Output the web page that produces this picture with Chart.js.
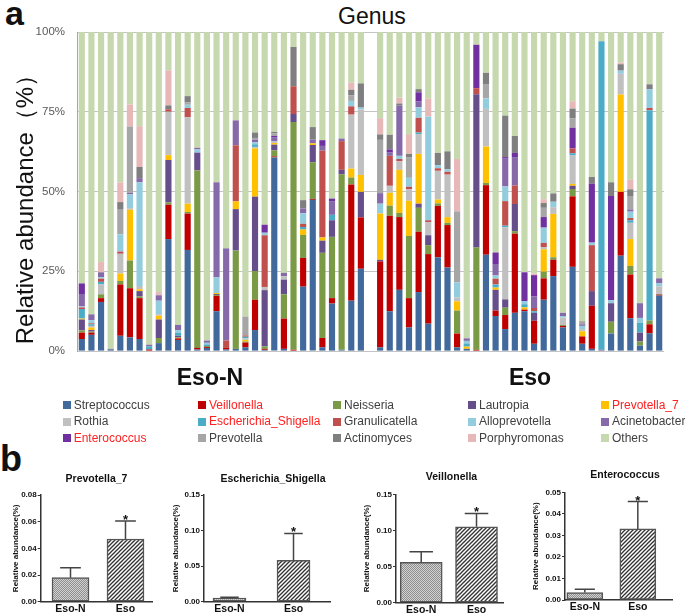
<!DOCTYPE html>
<html><head><meta charset="utf-8">
<script src="https://cdn.jsdelivr.net/npm/chart.js@4.4.1/dist/chart.umd.min.js"></script>
<style>
html,body{margin:0;padding:0;width:685px;height:616px;overflow:hidden;background:#fff;font-family:"Liberation Sans",Arial,sans-serif;}
canvas{position:absolute;}
.t{position:absolute;white-space:nowrap;}
.sw{position:absolute;width:8px;height:8px;}
</style></head><body>
<div class="t" style="left:5px;top:-4px;font:bold 34px/34px 'Liberation Sans';color:#111">a</div>
<div class="t" style="left:0px;top:441px;font:bold 36px/36px 'Liberation Sans';color:#111">b</div>
<div class="t" id="genus" style="left:0;width:744px;text-align:center;top:5px;font:23px/23px 'Liberation Sans';color:#111">Genus</div>
<canvas id="main" width="685" height="370" style="left:0;top:0"></canvas>
<div id="grp"></div>
<div id="legend"></div>
<canvas id="c1"></canvas><canvas id="c2"></canvas><canvas id="c3"></canvas><canvas id="c4"></canvas>
<script>
// ---------- data: panel a (relative abundance %, 30 Eso-N samples then 30 Eso samples) ----------
const genera = ['Streptococcus','Veillonella','Neisseria','Lautropia','Prevotella_7','Rothia','Escherichia_Shigella','Granulicatella','Alloprevotella','Acinetobacter','Enterococcus','Prevotella','Actinomyces','Porphyromonas','Others'];
const highlighted = ['Veillonella','Prevotella_7','Escherichia_Shigella','Enterococcus'];
const groups = ['Eso-N','Eso'];
const yTicks = [0,25,50,75,100];

const streptococcus = [3.8,5.1,15.4,0.5,4.8,4.3,3.8,0,2.5,35.1, 3.5,31.7,0.5,1,12.5,0.5,0.7,1.2,6.6,0.4, 60.7,0.7,0,20.2,47.4,1.2,14.9,0.4,15.8,25.8,
  1.2,12.5,19.2,7.4,18.5,8.6,29.4,26.2,1.2,0.7, 0,30.2,11,6.9,12,12.5,2.3,16.1,23.5,7.4, 26.4,2.3,0.7,0.2,5.5,29.9,10.3,1.7,5.6,17.4];
const veillonella = [2,0.7,1.2,0,16.1,15.4,12.8,0.5,0,10.8, 0.5,11.4,0.5,0.3,4.8,0.5,0,1.5,9.5,0.3, 0.3,9.5,0.4,9,0.3,2.9,1.7,0,36.4,16.1,
  26.9,29.9,22.8,9.2,18.9,21.8,16.1,13.3,4.3,0, 0.4,21.8,1.7,4.4,24.8,0.5,7.2,6.7,5.1,0.5, 22.1,2.3,13.5,0,0,20,13.7,0,2.8,0.3];
const neisseria = [0.7,0.3,1.2,0,1.1,8.7,0.5,0,1.6,0.7, 0.3,0.5,55.6,0.3,0.3,0,30.8,0.3,9,0.8, 1.9,7.6,71.4,7.2,11.5,26.7,19.2,55,2.2,0,
  0,3.2,1.3,19.5,7.5,2.8,0.8,0.7,7.2,0, 32.1,0.7,0,2.3,0.8,0,0,2.1,0.8,0.3, 2.3,0,0,0,3.7,0,2.7,1.3,1.2,0.2];
const lautropia = [3.4,0.5,0,0.2,0,0,1.7,0,5.8,13.3, 0.5,0,5.6,0,0.3,0,13,0,23.3,17.6, 1.8,4.6,2.5,0,5.4,3.8,5.2,1.4,0,8,
  0.5,0,0,0,1.3,3.1,0,0,0,0, 48,0,6.5,2.6,8.5,0,2.5,0,0,0, 1,0,4.6,0.2,5.8,0,0,2.8,0,0];
const prevotella7 = [0.3,0.8,0,0,2.3,15.9,0.6,0,1.2,1.5, 0,2.6,0,0,0.3,0,2.4,0.5,15.1,0, 0.5,0,0,1.7,0.5,1,0,0,2.8,5.3,
  14.5,4,13.5,11,15.6,0,1.2,1.8,2.9,0.7, 0,11.4,0.7,0,0,0.7,0,7,13.6,0, 0.6,1.6,0,0,0,30.5,8.4,0,0,0];
const rothia = [0,0.5,3.1,0,6.2,0.5,1,0,0.5,13.6, 0,27.1,0,0,0,0,0,0.5,0.5,1, 0.5,1.1,0,0,0,0,0,0,16.9,20.5,
  0,2.2,2.7,3.6,6.2,4.1,9,13.3,1.2,0, 0,11.8,0,22.6,0,0,0,0.7,2.1,2.3, 8.9,0.7,0,0,0,6.5,5.1,0,0,2.4];
const escherichiaShigella = [3,0.5,0.8,0,0,0,0,1,0,0, 1,0,0,0.5,0,0,0,0.5,0.8,0, 0,0,0,0.8,0,0,1.7,0,0,0,
  0,0,0,0,0.5,0,0,0,0,1, 0,0,1,0.5,0,1,0.5,0,0,0, 0.7,0,0,96.7,0,0,0.8,3.1,65.9,0];
const granulicatella = [0.5,0.3,1,0,0.7,0,0,0,0,0.8, 0,2.9,0,0,0,2.3,17.6,0.4,0,16.2, 0,0,8.7,1,0,27.2,0,9,2.6,0,
  0,9.4,0.7,0.8,4.6,0.6,0.8,0.9,0,0, 1.9,0,1.8,7.7,5.8,0,1,1.3,0,0, 1.5,0,14.4,0,0,0,0.7,0,0.7,0];
const alloprevotella = [0.3,1,0.5,0,5.4,4.3,32.5,0,4.2,0, 0.8,1,1,0.5,4.9,0,0,0,0.7,0.8, 0,0,0,3.3,0,0,0,0,1.7,0.6,
  3.1,0,1,2.8,3.3,32.5,1,0.8,4.7,0.8, 0,3.3,1,4.6,0,1,0,4.8,1.7,0.5, 0,1,0.8,0,1,1,2,1.5,5.9,1];
const acinetobacter = [3.9,1.8,1.5,0,0,0.5,1.3,0.5,1.7,0, 1.6,0,0.5,0.7,29.8,28.9,7.8,0,0.8,0, 1.2,1,0,1.5,1.2,1.5,4.3,0.8,0,0,
  3.3,1,15.7,0,1.8,0,0,0,0,0.8, 0,0,3.6,8.7,8.9,0,3.6,0,0,1, 0,0.5,0,0,0,0,0.7,4.6,0,1.5];
const enterococcus = [3.3,0,0,0,0,0,0,0,0,0, 0,0,0,0,0,0,0,0,0,2.5, 0.5,0,0,0,0,1.8,0.8,0,0,0,
  0,1,0,0,2.9,0,0,0,0,0, 13.6,0,3.6,0.5,1.3,9,6.7,3.3,0,0, 6.5,0,18.5,0,32.6,0,0,0,0,0];
const prevotella = [0,0,0,0,7.7,20.8,0,0,0,0, 0,0.7,0,0,0,0,0,5.9,0.5,0, 0.8,0,0,0,0,0,0,0,1.8,0,
  16.7,0,0,6.5,0,0,0,0,22.3,0, 0,4.3,0,0,0,0,0,2.9,0,0, 2.9,1,0,0,0,0,4.2,0,0,0];
const actinomyces = [0,0,0,0,2.4,0,3.5,0,0,1.2, 0,2,0,0,0,0,0,0,1.7,0, 0.5,0,12.3,2.6,3.9,0,0,0,1.7,7.6,
  1.7,4.6,0.7,1,1,0,3.8,5.6,0,0, 0,3.7,0,13,5.3,0,0,1.5,2.6,0, 3.1,0,2.1,0,4.3,2,2.1,0,1.5,0];
const porphyromonas = [0,0,3.2,0,6.2,6.9,12.8,0,1,11, 0,0,0,0,0,0,0,0,0,0, 0,0,0,0,0,0,0,0,2.2,0,
  5.1,0,1.8,6.2,0,5.6,0,0,16.4,0, 0,0,0,0,0,0,0.5,1.2,0,0, 2.3,0,0,0,0,0.5,3,0,0,0];

// ---------- data: panel b (mean and SEM of relative abundance) ----------
const groupsB = ['Eso-N','Eso'];
const prevotella7Mean = [0.018, 0.047];   const prevotella7Sem = [0.0075, 0.0135];
const escherichiaMean = [0.005, 0.058];   const escherichiaSem = [0.0012, 0.038];
const veillonellaMean = [0.056, 0.105];   const veillonellaSem = [0.0145, 0.0185];
const enterococcusMean = [0.0035, 0.033]; const enterococcusSem = [0.0015, 0.0127];
const significance = ['', '*'];

// ---------- styles ----------
const palette = ['#41699b','#c00000','#7a9a46','#654e8a','#ffc000','#c0c0c0','#4bacc6','#c0504d','#93cddd','#8569a8','#7030a0','#a6a6a6','#7f7f7f','#e6b9b8','#c6d8ae'];
const FONT = "'Liberation Sans', Arial, sans-serif";

// ---------- panel a ----------
const series = [streptococcus, veillonella, neisseria, lautropia, prevotella7, rothia, escherichiaShigella, granulicatella, alloprevotella, acinetobacter, enterococcus, prevotella, actinomyces, porphyromonas];
const others = streptococcus.map((_, i) => +(100 - series.reduce((s, a) => s + a[i], 0)).toFixed(2));
const n = streptococcus.length / 2;
const slotLabels = [];
for (let i = 1; i <= n; i++) slotLabels.push(groups[0] + ' ' + i);
slotLabels.push('');
for (let i = 1; i <= n; i++) slotLabels.push(groups[1] + ' ' + i);
const withGap = a => [...a.slice(0, n), null, ...a.slice(n)];

new Chart(document.getElementById('main'), {
  type: 'bar',
  data: {
    labels: slotLabels,
    datasets: genera.map((g, k) => ({
      label: g,
      data: withGap(k < series.length ? series[k] : others),
      backgroundColor: palette[k],
      borderWidth: 0,
      barPercentage: 0.64,
      categoryPercentage: 1
    }))
  },
  options: {
    responsive: false, animation: false,
    layout: { padding: { top: 32, right: 21, bottom: 12.7, left: 0 } },
    plugins: { legend: { display: false }, tooltip: { enabled: false }, title: { display: false } },
    scales: {
      x: { stacked: true, display: false },
      y: {
        stacked: true, min: 0, max: 100,
        afterBuildTicks: s => { s.ticks = yTicks.map(v => ({ value: v })); },
        ticks: { callback: v => v + '%', padding: 12, color: '#595959', font: { family: FONT, size: 11.5 } },
        grid: { color: '#c4c4c4', drawTicks: false, lineWidth: 1 },
        border: { display: true, color: '#a8a8a8' },
        title: { display: true, text: 'Relative abundance（%）\u3000', color: '#111', padding: { top: 11.6, bottom: 0 }, font: { family: FONT, size: 24 } },
        afterFit: s => { s.width = 77; }
      }
    }
  }
});

// group labels
const grpPos = [210, 530];
document.getElementById('grp').innerHTML = groups.map((g, i) =>
  `<div class="t" style="left:${grpPos[i] - 60}px;width:120px;text-align:center;top:365.5px;font:bold 23px/23px ${FONT};color:#111">${g}</div>`).join('');

// legend
const legX = [62.7, 198, 333, 468, 601];
const legY = [405, 421.7, 438.3];
document.getElementById('legend').innerHTML = genera.map((g, k) => {
  const x = legX[k % 5], y = legY[Math.floor(k / 5)];
  const col = highlighted.includes(g) ? '#ff2020' : '#404040';
  return `<div class="sw" style="left:${x}px;top:${y - 4}px;background:${palette[k]}"></div>` +
    `<div class="t" style="left:${x + 11}px;top:${y - 7.3}px;font:12px/15px ${FONT};color:${col}">${g}</div>`;
}).join('');

// ---------- panel b ----------
function hatchPattern() {
  const c = document.createElement('canvas'); c.width = 4; c.height = 4;
  const x = c.getContext('2d');
  x.fillStyle = '#ffffff'; x.fillRect(0, 0, 4, 4);
  x.strokeStyle = '#333'; x.lineWidth = 1.3;
  [[-1, 5, 5, -1], [-1, 1, 1, -1], [3, 5, 5, 3]].forEach(l => { x.beginPath(); x.moveTo(l[0], l[1]); x.lineTo(l[2], l[3]); x.stroke(); });
  return x.createPattern(c, 'repeat');
}
function dotPattern() {
  const c = document.createElement('canvas'); c.width = 2; c.height = 2;
  const x = c.getContext('2d');
  x.fillStyle = '#d2d2d2'; x.fillRect(0, 0, 2, 2);
  x.fillStyle = '#8e8e8e'; x.fillRect(0, 0, 1, 1); x.fillRect(1, 1, 1, 1);
  return x.createPattern(c, 'repeat');
}

const errorBars = {
  id: 'errorBars',
  afterDatasetsDraw(chart) {
    const ds = chart.data.datasets[0];
    const meta = chart.getDatasetMeta(0);
    const ys = chart.scales.y;
    const ctx = chart.ctx;
    ctx.save();
    ctx.strokeStyle = '#444'; ctx.lineWidth = 1.5; ctx.fillStyle = '#111';
    meta.data.forEach((bar, i) => {
      const top = ys.getPixelForValue(ds.data[i].y + ds.errors[i]);
      const half = bar.width * 0.28;
      ctx.beginPath();
      ctx.moveTo(bar.x, bar.y); ctx.lineTo(bar.x, top);
      ctx.moveTo(bar.x - half, top); ctx.lineTo(bar.x + half, top);
      ctx.stroke();
      if (ds.marks[i]) {
        ctx.font = `bold 13px ${FONT}`; ctx.textAlign = 'center'; ctx.textBaseline = 'alphabetic';
        ctx.fillText(ds.marks[i], bar.x, top + 3);
      }
    });
    ctx.restore();
  }
};

function smallChart(id, p) {
  const cv = document.getElementById(id);
  cv.width = p.cw; cv.height = 156;
  cv.style.left = p.cl + 'px'; cv.style.top = '460px';
  new Chart(cv, {
    type: 'bar',
    data: {
      datasets: [{
        data: p.mean.map((m, i) => ({ x: i + 1, y: m })),
        errors: p.sem, marks: significance,
        backgroundColor: [dotPattern(), hatchPattern()],
        borderColor: '#555', borderWidth: 1.5, borderSkipped: false,
        barThickness: p.bw
      }]
    },
    plugins: [errorBars],
    options: {
      responsive: false, animation: false,
      layout: { padding: 0 },
      plugins: {
        legend: { display: false }, tooltip: { enabled: false },
        title: { display: true, text: p.title, color: '#111', font: { family: FONT, size: 10.5, weight: 'bold' }, padding: { top: p.tTop, bottom: p.tBot } }
      },
      scales: {
        x: {
          type: 'linear', min: p.xmin, max: p.xmax, offset: false,
          afterBuildTicks: s => { s.ticks = groupsB.map((_, i) => ({ value: i + 1 })); },
          ticks: { callback: (v, i) => groupsB[i], color: '#111', padding: 1, autoSkip: false, maxRotation: 0, font: { family: FONT, size: 10.5, weight: 'bold' } },
          grid: { display: false, drawTicks: false, offset: false },
          border: { display: true, color: '#333', width: 1.5 },
          afterFit: s => { s.height = 616 - p.bottom; }
        },
        y: {
          min: 0, max: p.ymax,
          afterBuildTicks: s => { s.ticks = p.ticks.map(v => ({ value: v })); },
          ticks: { callback: v => v.toFixed(2), color: '#111', padding: 1, font: { family: FONT, size: 8, weight: 'bold' } },
          grid: { drawOnChartArea: false, drawTicks: true, tickLength: 3, color: '#333', lineWidth: 1 },
          border: { display: true, color: '#333', width: 1.5 },
          title: { display: true, text: 'Relative abundance(%)', color: '#111', padding: 0, font: { family: FONT, size: 8, weight: 'bold' } },
          afterFit: s => { s.width = p.yw; }
        },
        yR: {
          position: 'right', display: true,
          ticks: { display: false }, grid: { display: false }, border: { display: false },
          afterFit: s => { s.width = p.rw; }
        }
      }
    }
  });
}

smallChart('c1', { title: 'Prevotella_7', mean: prevotella7Mean, sem: prevotella7Sem, ymax: 0.08, ticks: [0, 0.02, 0.04, 0.06, 0.08],
  cl: 11, cw: 171, yw: 29.7, rw: 30, xmin: 0.458, xmax: 2.482, bw: 37, tTop: 12.7, tBot: 9.7, bottom: 601.7 });
smallChart('c2', { title: 'Escherichia_Shigella', mean: escherichiaMean, sem: escherichiaSem, ymax: 0.15, ticks: [0, 0.05, 0.10, 0.15],
  cl: 171, cw: 204, yw: 33, rw: 45, xmin: 0.602, xmax: 2.57, bw: 33, tTop: 12.7, tBot: 9.7, bottom: 601.7 });
smallChart('c3', { title: 'Veillonella', mean: veillonellaMean, sem: veillonellaSem, ymax: 0.15, ticks: [0, 0.05, 0.10, 0.15],
  cl: 362, cw: 179, yw: 34, rw: 38, xmin: 0.544, xmax: 2.479, bw: 42, tTop: 10.4, tBot: 11.3, bottom: 602.7 });
smallChart('c4', { title: 'Enterococcus', mean: enterococcusMean, sem: enterococcusSem, ymax: 0.05, ticks: [0, 0.01, 0.02, 0.03, 0.04, 0.05],
  cl: 531, cw: 188, yw: 34, rw: 47, xmin: 0.626, xmax: 2.645, bw: 36, tTop: 8.7, tBot: 11, bottom: 600 });
</script>
</body></html>
